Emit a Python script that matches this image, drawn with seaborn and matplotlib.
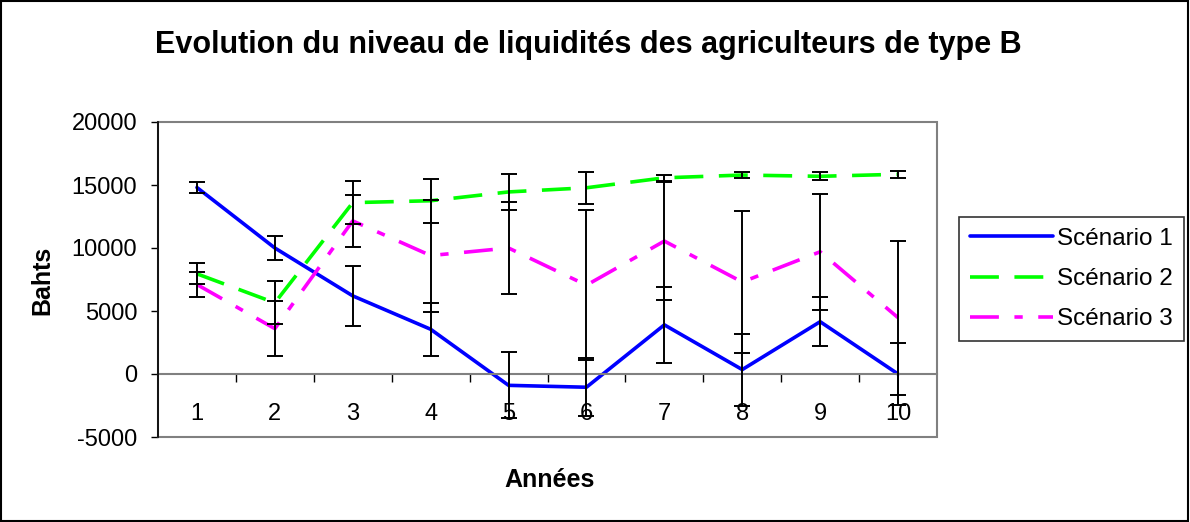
import numpy as np
import pandas as pd
import matplotlib
matplotlib.use("Agg")
import matplotlib.pyplot as plt
from matplotlib.patches import Rectangle
import seaborn as sns

# Years and scenario labels
annees = list(range(1, 11))
scenarios = ["Scénario 1", "Scénario 2", "Scénario 3"]

# Mean liquidity level (Bahts) per scenario
scenario_1 = [14800, 10000, 6200, 3550, -900, -1050, 3900, 350, 4150, 0]
scenario_2 = [7950, 5650, 13600, 13750, 14450, 14780, 15570, 15790, 15690, 15850]
scenario_3 = [7100, 3600, 12150, 9400, 10000, 7050, 10550, 7300, 9700, 4470]

# Error bar half-widths (Bahts)
erreur_1 = [460, 990, 2400, 2090, 2630, 2310, 3000, 2850, 1930, 2450]
erreur_2 = [830, 1700, 1710, 1750, 1460, 1250, 240, 240, 330, 300]
erreur_3 = [960, 2160, 2070, 4440, 3690, 5930, 4660, 5630, 4610, 6120]

y_ticks = [-5000, 0, 5000, 10000, 15000, 20000]

sns.set_theme(style="white")
plt.rcParams["font.family"] = ["Liberation Sans", "DejaVu Sans"]
plt.rcParams["text.color"] = "black"
plt.rcParams["axes.labelcolor"] = "black"
plt.rcParams["xtick.color"] = "black"
plt.rcParams["ytick.color"] = "black"

valeurs = [scenario_1, scenario_2, scenario_3]
erreurs = [erreur_1, erreur_2, erreur_3]
df = pd.DataFrame({
    "annee": annees * 3,
    "bahts": scenario_1 + scenario_2 + scenario_3,
    "scenario": [s for s in scenarios for _ in annees],
})

couleurs = {"Scénario 1": "#0000FF", "Scénario 2": "#00FF00", "Scénario 3": "#FF00FF"}
tirets = {"Scénario 1": "", "Scénario 2": (8.0, 4.3), "Scénario 3": (8.0, 4.3, 2.3, 4.3)}
epaisseur = 2.6

fig = plt.figure(figsize=(11.9, 5.22), dpi=100)
ax = fig.add_axes([158 / 1190, 85 / 522, 779 / 1190, 315 / 522])

sns.lineplot(data=df, x="annee", y="bahts", hue="scenario", style="scenario",
             palette=couleurs, dashes=tirets, linewidth=epaisseur, ax=ax, zorder=2)

for vals, errs in zip(valeurs, erreurs):
    ax.errorbar(annees, vals, yerr=errs, fmt="none", ecolor="black",
                elinewidth=1.4, capsize=5.5, capthick=1.4, zorder=3)

ax.set_xlim(0.5, 10.5)
ax.set_ylim(-5000, 20000)
ax.set_yticks(y_ticks)
ax.set_yticklabels([str(v) for v in y_ticks])
ax.set_xticks(annees)
ax.set_xticklabels([str(a) for a in annees])
ax.set_xticks(np.arange(1.5, 10.5, 1.0), minor=True)

# Category axis crosses the value axis at zero
ax.spines["bottom"].set_position(("data", 0))
ax.spines["bottom"].set_color("#808080")
ax.spines["bottom"].set_linewidth(1.5)
for side in ["top", "right"]:
    ax.spines[side].set_visible(False)
ax.spines["left"].set_color("black")
ax.spines["left"].set_linewidth(1.2)
ax.spines["left"].set_zorder(5)

# Plot-area frame
ax.add_patch(Rectangle((0, 0), 1, 1, transform=ax.transAxes, fill=False,
                       edgecolor="#808080", linewidth=1.5, clip_on=False, zorder=1))

ax.tick_params(axis="y", which="major", direction="out", length=5, width=1,
               color="black", labelsize=17, labelcolor="black", pad=10, left=True)
ax.tick_params(axis="x", which="major", length=0, labelsize=17,
               labelcolor="black", pad=21, bottom=True)
ax.tick_params(axis="x", which="minor", direction="out", length=5.5, width=1,
               color="black", bottom=True)

ax.set_xlabel("")
ax.set_ylabel("")
fig.text(42 / 1190, 1 - 280 / 522, "Bahts", rotation=90, fontsize=18,
         fontweight="bold", ha="center", va="center", color="black")
fig.text(550 / 1190, 1 - 480 / 522, "Années", fontsize=18,
         fontweight="bold", ha="center", va="center", color="black")
fig.text(588 / 1190, 1 - 45 / 522,
         "Evolution du niveau de liquidités des agriculteurs de type B",
         fontsize=22, fontweight="bold", ha="center", va="center", color="black")

handles, labels = ax.get_legend_handles_labels()
ax.get_legend().remove()
leg = fig.legend(handles, labels, loc="upper left",
                 bbox_to_anchor=(959 / 1190, 1 - 217 / 522),
                 bbox_transform=fig.transFigure, fontsize=17.5, frameon=True,
                 fancybox=False, edgecolor="black", handlelength=3.4,
                 handletextpad=0.2, labelspacing=0.75, borderpad=0.45,
                 borderaxespad=0)
leg.get_frame().set_linewidth(1.2)
for line in leg.get_lines():
    line.set_linewidth(epaisseur)
for txt in leg.get_texts():
    txt.set_color("black")

# Chart-area border
fig.add_artist(Rectangle((0.001, 0.002), 0.997, 0.996, transform=fig.transFigure,
                         fill=False, edgecolor="black", linewidth=1.5))

fig.savefig("out.png", dpi=100, facecolor="white")
